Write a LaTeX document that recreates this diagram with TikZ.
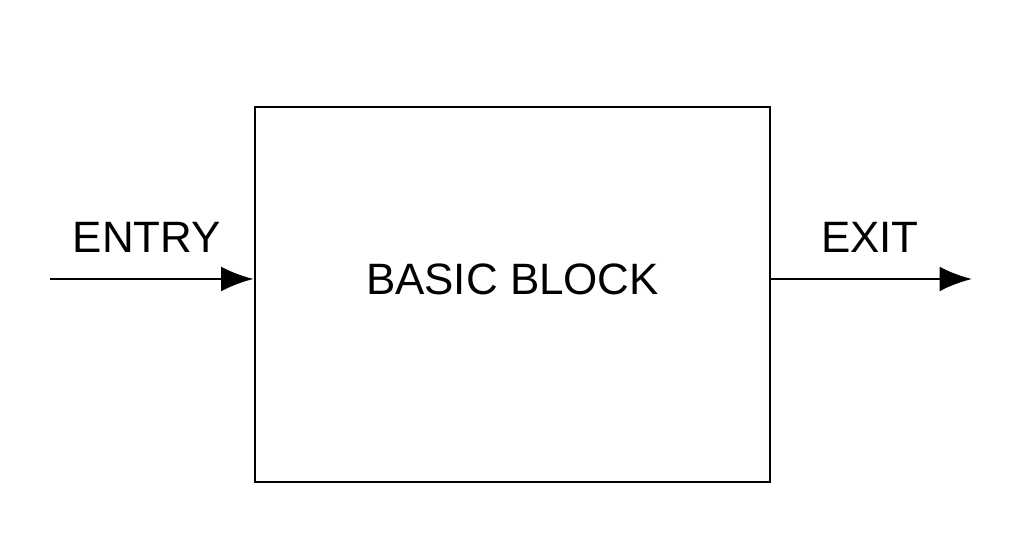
\documentclass[tikz,border=0pt]{standalone}
\usepackage{fontspec}
\setmainfont{Liberation Sans}
\usetikzlibrary{arrows.meta}
\tikzset{
  block/.style={rectangle, draw=black, line width=1.6pt, minimum width=10.3cm, minimum height=7.5cm, font=\fontsize{25}{30}\selectfont},
  flow/.style={-{Latex[length=0.65cm,width=0.5cm]}, line width=1.6pt},
  lbl/.style={font=\fontsize{25}{30}\selectfont}
}
\begin{document}
\begin{tikzpicture}
    \useasboundingbox (0,0) rectangle (20.48,11.18);

    \node(block)[block] at (10.25,5.29) {};
    \node(name)[lbl] at (10.25,5.6) {BASIC BLOCK};
    \coordinate(in) at (1.0,5.6);
    \coordinate(out) at (19.44,5.6);

    \node(entry)[lbl] at (2.94,6.44) {ENTRY};
    \node(exit)[lbl] at (17.4,6.44) {EXIT};

    \draw[flow] (in) -- (in -| block.west);
    \draw[flow] (out -| block.east) -- (out);

\end{tikzpicture}
\end{document}
